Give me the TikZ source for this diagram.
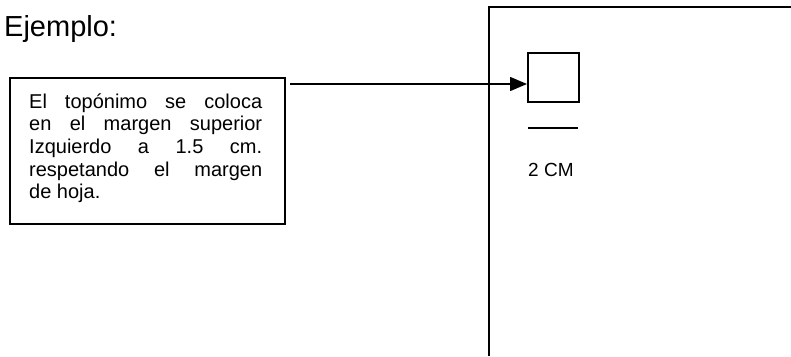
\documentclass[tikz,border=0pt]{standalone}
\usepackage{fontspec}
\setmainfont{Liberation Sans}
\usetikzlibrary{arrows.meta}
\begin{document}
\begin{tikzpicture}[x=1pt,y=-1pt,
  stroke/.style={line width=1.5pt},
  boxline/.style={anchor=base west,inner sep=0,font=\fontsize{20}{22.6}\selectfont}]
\useasboundingbox (0,0) rectangle (791,356);
% title
\node[anchor=base west,inner sep=0,font=\fontsize{29}{34}\selectfont] (title) at (4,36) {Ejemplo:};
% text box
\node[draw,stroke,anchor=north west,minimum width=275pt,minimum height=146pt,inner sep=0] (tb) at (9,77) {};
\node[boxline] (l1) at (29,108.3) {\makebox[233pt][s]{El topónimo se coloca}};
\node[boxline] (l2) at (29,130.9) {\makebox[233pt][s]{en el margen superior}};
\node[boxline] (l3) at (29,153.5) {\makebox[233pt][s]{Izquierdo a 1.5 cm.}};
\node[boxline] (l4) at (29,176.1) {\makebox[233pt][s]{respetando el margen}};
\node[boxline] (l5) at (29,198.7) {de hoja.};
% page outline
\coordinate (pb) at (489,356);
\coordinate (pt) at (489,7);
\coordinate (pr) at (791,7);
\draw[line width=1.8pt] (pb) -- (pt) -- (pr);
% small square
\node[draw,stroke,anchor=north west,minimum width=51pt,minimum height=49pt,inner sep=0] (sq) at (527,52) {};
% arrow
\coordinate (a) at (290,84);
\draw[line width=1.5pt,-{Triangle[length=17pt,width=14pt]}] (a) -- (a -| sq.west);
% rule and label
\coordinate (r1) at (528,128);
\coordinate (r2) at (578,128);
\draw[line width=1.5pt] (r1) -- (r2);
\node[anchor=base west,inner sep=0,font=\fontsize{19}{22}\selectfont] (cm) at (528,176.7) {2 CM};
\end{tikzpicture}
\end{document}
